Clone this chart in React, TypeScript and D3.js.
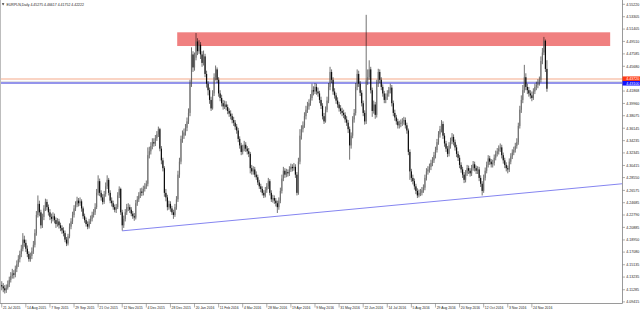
import React from 'react';
import * as d3 from 'd3';

const chartTitle = 'EURPLN,Daily  4.45275 4.46617 4.41752 4.42222';
const firstOpen = 4.12;

const closes = [
  4.118,4.115,4.112,4.116,4.121,4.128,4.134,4.138,4.136,4.145,
  4.152,4.160,4.168,4.176,4.190,4.185,4.176,4.168,4.160,4.165,
  4.172,4.182,4.200,4.228,4.245,4.232,4.212,4.225,4.238,4.248,
  4.240,4.232,4.225,4.222,4.226,4.220,4.214,4.218,4.212,4.208,
  4.204,4.200,4.190,4.184,4.195,4.210,4.218,4.228,4.238,4.244,
  4.250,4.246,4.249,4.238,4.226,4.220,4.214,4.210,4.218,4.222,
  4.228,4.232,4.240,4.262,4.280,4.262,4.255,4.248,4.260,4.272,
  4.282,4.262,4.250,4.246,4.240,4.236,4.240,4.258,4.268,4.232,
  4.212,4.222,4.232,4.240,4.240,4.236,4.230,4.226,4.224,4.246,
  4.252,4.258,4.264,4.262,4.268,4.272,4.276,4.320,4.326,4.334,
  4.340,4.338,4.346,4.352,4.360,4.330,4.312,4.300,4.262,4.255,
  4.240,4.245,4.238,4.232,4.228,4.240,4.252,4.290,4.310,4.345,
  4.350,4.355,4.362,4.372,4.385,4.430,4.475,4.455,4.470,4.495,
  4.480,4.490,4.475,4.462,4.472,4.445,4.430,4.420,4.405,4.392,
  4.415,4.440,4.452,4.436,4.415,4.408,4.400,4.395,4.398,4.394,
  4.388,4.384,4.380,4.374,4.370,4.364,4.358,4.345,4.335,4.325,
  4.330,4.336,4.330,4.326,4.322,4.300,4.295,4.298,4.290,4.286,
  4.278,4.272,4.268,4.262,4.258,4.266,4.272,4.280,4.262,4.252,
  4.254,4.250,4.246,4.240,4.250,4.265,4.284,4.296,4.290,4.294,
  4.292,4.298,4.302,4.300,4.302,4.290,4.262,4.310,4.350,4.360,
  4.366,4.380,4.390,4.395,4.400,4.408,4.420,4.418,4.425,4.418,
  4.415,4.405,4.396,4.380,4.372,4.390,4.404,4.425,4.448,4.436,
  4.418,4.412,4.404,4.398,4.392,4.388,4.385,4.382,4.375,4.370,
  4.360,4.335,4.350,4.375,4.385,4.425,4.445,4.430,4.416,4.400,
  4.385,4.372,4.435,4.440,4.452,4.420,4.388,4.398,4.382,4.430,
  4.448,4.436,4.425,4.415,4.405,4.410,4.415,4.420,4.424,4.400,
  4.385,4.378,4.372,4.366,4.368,4.370,4.372,4.374,4.366,4.358,
  4.325,4.295,4.285,4.280,4.272,4.265,4.258,4.262,4.262,4.266,
  4.270,4.285,4.295,4.298,4.302,4.308,4.312,4.320,4.328,4.340,
  4.352,4.360,4.368,4.350,4.338,4.330,4.322,4.335,4.342,4.348,
  4.340,4.332,4.322,4.316,4.305,4.298,4.290,4.282,4.292,4.300,
  4.296,4.292,4.300,4.306,4.300,4.296,4.298,4.285,4.276,4.265,
  4.285,4.296,4.305,4.315,4.310,4.306,4.308,4.316,4.322,4.326,
  4.330,4.332,4.320,4.312,4.305,4.300,4.298,4.310,4.318,4.324,
  4.328,4.334,4.340,4.365,4.390,4.405,4.420,4.440,4.425,4.420,
  4.415,4.412,4.408,4.418,4.425,4.428,4.432,4.436,4.465,4.478,
  4.496,4.45275,4.42222,
];

const highs = [
  4.126,4.123,4.120,4.121,4.127,4.133,4.140,4.145,4.143,4.150,
  4.158,4.166,4.173,4.182,4.200,4.196,4.190,4.181,4.172,4.170,
  4.178,4.188,4.206,4.234,4.258,4.250,4.236,4.230,4.243,4.253,
  4.252,4.244,4.237,4.230,4.232,4.230,4.224,4.223,4.222,4.216,
  4.212,4.209,4.204,4.194,4.199,4.215,4.223,4.233,4.243,4.249,
  4.256,4.254,4.255,4.252,4.241,4.230,4.224,4.218,4.222,4.227,
  4.233,4.237,4.246,4.268,4.289,4.284,4.266,4.260,4.265,4.278,
  4.289,4.285,4.266,4.255,4.250,4.244,4.245,4.263,4.272,4.270,
  4.236,4.227,4.237,4.245,4.246,4.244,4.240,4.234,4.231,4.251,
  4.257,4.263,4.269,4.270,4.273,4.277,4.281,4.332,4.333,4.340,
  4.346,4.346,4.351,4.357,4.364,4.362,4.334,4.316,4.303,4.268,
  4.259,4.250,4.249,4.242,4.236,4.245,4.257,4.296,4.316,4.350,
  4.358,4.361,4.368,4.378,4.392,4.436,4.486,4.480,4.478,4.508,
  4.500,4.497,4.494,4.480,4.481,4.476,4.450,4.434,4.424,4.410,
  4.420,4.446,4.458,4.455,4.440,4.420,4.413,4.405,4.404,4.403,
  4.398,4.392,4.389,4.384,4.379,4.374,4.368,4.362,4.349,4.339,
  4.336,4.342,4.340,4.334,4.331,4.325,4.305,4.303,4.302,4.295,
  4.290,4.282,4.276,4.272,4.266,4.271,4.277,4.285,4.283,4.266,
  4.259,4.258,4.254,4.250,4.255,4.270,4.290,4.302,4.300,4.299,
  4.298,4.303,4.307,4.306,4.308,4.306,4.294,4.316,4.360,4.366,
  4.372,4.386,4.396,4.402,4.406,4.414,4.430,4.426,4.431,4.430,
  4.424,4.419,4.410,4.400,4.385,4.395,4.410,4.431,4.456,4.452,
  4.440,4.423,4.416,4.409,4.402,4.397,4.393,4.390,4.386,4.380,
  4.374,4.364,4.355,4.380,4.391,4.431,4.452,4.450,4.434,4.420,
  4.404,4.389,4.536,4.452,4.466,4.456,4.424,4.404,4.402,4.436,
  4.453,4.452,4.440,4.429,4.419,4.415,4.420,4.425,4.430,4.428,
  4.404,4.390,4.382,4.376,4.373,4.375,4.377,4.379,4.378,4.370,
  4.361,4.329,4.299,4.290,4.284,4.276,4.269,4.267,4.268,4.271,
  4.275,4.290,4.300,4.303,4.307,4.313,4.317,4.325,4.333,4.345,
  4.357,4.365,4.374,4.372,4.354,4.342,4.334,4.340,4.347,4.354,
  4.352,4.344,4.336,4.326,4.320,4.309,4.302,4.294,4.297,4.305,
  4.304,4.300,4.305,4.311,4.310,4.304,4.303,4.302,4.289,4.280,
  4.290,4.301,4.310,4.320,4.319,4.314,4.313,4.321,4.327,4.331,
  4.335,4.338,4.336,4.324,4.316,4.309,4.304,4.315,4.323,4.329,
  4.333,4.339,4.346,4.370,4.396,4.412,4.428,4.459,4.446,4.430,
  4.425,4.420,4.418,4.423,4.430,4.433,4.437,4.441,4.472,4.485,
  4.502,4.498,4.46617,
];

const lows = [
  4.112,4.109,4.107,4.108,4.113,4.117,4.124,4.130,4.130,4.132,
  4.140,4.148,4.155,4.163,4.172,4.179,4.171,4.163,4.156,4.156,
  4.160,4.168,4.178,4.196,4.224,4.226,4.207,4.208,4.220,4.234,
  4.235,4.227,4.220,4.215,4.218,4.215,4.208,4.210,4.207,4.203,
  4.199,4.195,4.186,4.180,4.181,4.192,4.206,4.214,4.224,4.234,
  4.240,4.241,4.242,4.233,4.222,4.216,4.210,4.206,4.207,4.214,
  4.218,4.224,4.228,4.237,4.258,4.257,4.250,4.244,4.245,4.256,
  4.268,4.258,4.246,4.241,4.236,4.232,4.231,4.237,4.254,4.228,
  4.204,4.208,4.218,4.228,4.234,4.231,4.226,4.222,4.219,4.221,
  4.242,4.248,4.254,4.257,4.258,4.264,4.268,4.272,4.315,4.321,
  4.329,4.333,4.334,4.342,4.348,4.326,4.306,4.295,4.256,4.249,
  4.235,4.236,4.233,4.228,4.222,4.225,4.236,4.248,4.285,4.306,
  4.339,4.345,4.350,4.357,4.368,4.380,4.425,4.448,4.450,4.466,
  4.474,4.476,4.468,4.456,4.458,4.440,4.424,4.412,4.399,4.388,
  4.390,4.411,4.435,4.431,4.410,4.403,4.395,4.390,4.391,4.389,
  4.383,4.379,4.375,4.369,4.365,4.359,4.353,4.340,4.330,4.320,
  4.321,4.326,4.325,4.321,4.317,4.292,4.290,4.290,4.286,4.282,
  4.274,4.268,4.263,4.258,4.254,4.255,4.262,4.268,4.258,4.248,
  4.247,4.245,4.241,4.231,4.236,4.246,4.261,4.280,4.285,4.286,
  4.287,4.288,4.294,4.295,4.296,4.285,4.258,4.259,4.306,4.344,
  4.355,4.362,4.375,4.385,4.390,4.396,4.404,4.412,4.414,4.413,
  4.410,4.400,4.391,4.375,4.368,4.370,4.386,4.400,4.420,4.431,
  4.413,4.407,4.399,4.393,4.387,4.383,4.380,4.377,4.370,4.365,
  4.354,4.313,4.330,4.346,4.370,4.381,4.420,4.425,4.411,4.395,
  4.380,4.367,4.368,4.428,4.436,4.415,4.379,4.384,4.376,4.378,
  4.425,4.431,4.420,4.410,4.400,4.400,4.405,4.410,4.415,4.395,
  4.380,4.373,4.367,4.361,4.361,4.363,4.365,4.367,4.361,4.353,
  4.320,4.282,4.279,4.275,4.267,4.260,4.254,4.255,4.257,4.258,
  4.262,4.266,4.281,4.290,4.293,4.297,4.303,4.308,4.315,4.324,
  4.336,4.347,4.355,4.345,4.333,4.325,4.317,4.318,4.330,4.337,
  4.335,4.327,4.317,4.311,4.300,4.293,4.285,4.277,4.278,4.288,
  4.291,4.287,4.288,4.296,4.295,4.291,4.291,4.280,4.271,4.258,
  4.262,4.281,4.292,4.301,4.305,4.301,4.301,4.304,4.312,4.318,
  4.321,4.325,4.315,4.307,4.300,4.295,4.292,4.294,4.306,4.314,
  4.320,4.324,4.330,4.336,4.361,4.385,4.400,4.416,4.420,4.414,
  4.410,4.407,4.403,4.405,4.414,4.420,4.423,4.427,4.432,4.460,
  4.474,4.448,4.41752,
];

const dateLabels = [
  '21 Jul 2015','14 Aug 2015','7 Sep 2015','29 Sep 2015','21 Oct 2015','12 Nov 2015',
  '4 Dec 2015','28 Dec 2015','20 Jan 2016','11 Feb 2016','4 Mar 2016','28 Mar 2016',
  '19 Apr 2016','9 May 2016','31 May 2016','22 Jun 2016','14 Jul 2016','5 Aug 2016',
  '29 Aug 2016','20 Sep 2016','12 Oct 2016','3 Nov 2016','24 Nov 2016',
];
const barsPerDateLabel = 16;

const priceTicks = [
  '4.55220','4.53305','4.51405','4.49510','4.47585','4.45680','4.43775','4.41868',
  '4.39960','4.38075','4.36145','4.34235','4.32345','4.30415','4.28550','4.26575',
  '4.24685','4.22790','4.20885','4.18950','4.17080','4.15135','4.13235','4.11285','4.09415',
];

// drawn objects (data units: bar index, price)
const zoneBars = [116.5, 404];
const zonePrices = [4.4880, 4.5091];
const upperLevel = 4.4372;
const lowerLevel = 4.4310;
const upperLevelLabel = '4.43720';
const lowerLevelLabel = '4.43100';
const trendBars = [80, 397.4];
const trendPrices = [4.2035, 4.2728];

const FONT = '"Liberation Sans", Arial, sans-serif';

export default function App() {
  const W = 640, H = 312;
  const plotRight = 622.5;
  const axisY = 303.5;
  const x = d3.scaleLinear().domain([0, closes.length - 1]).range([1.75, 1.75 + (closes.length - 1) * 1.506]);
  const y = d3.scaleLinear().domain([4.09415, 4.5522]).range([301.9, 4.3]);

  const bars = closes.map((c, i) => {
    const o = i === 0 ? firstOpen : closes[i - 1];
    const h = Math.max(highs[i], o, c);
    const l = Math.min(lows[i], o, c);
    return { i, o, h, l, c };
  });

  const trendSlope = (trendPrices[1] - trendPrices[0]) / (trendBars[1] - trendBars[0]);
  const trendEndBar = x.invert(plotRight);
  const trendEndPrice = trendPrices[0] + trendSlope * (trendEndBar - trendBars[0]);

  return (
    <svg width={W} height={H} style={{ position: 'fixed', left: 0, top: 0, background: '#fff' }} fontFamily={FONT}>
      <defs>
        <clipPath id="plot">
          <rect x={0} y={0} width={plotRight} height={axisY} />
        </clipPath>
      </defs>
      <rect x={0} y={0} width={W} height={H} fill="#fff" />
      <g clipPath="url(#plot)">
        <rect
          x={x(zoneBars[0])}
          width={x(zoneBars[1]) - x(zoneBars[0])}
          y={y(zonePrices[1])}
          height={y(zonePrices[0]) - y(zonePrices[1])}
          fill="#f08080"
        />
        <line x1={0} x2={plotRight} y1={y(upperLevel)} y2={y(upperLevel)} stroke="#f9c6b0" strokeWidth={1.6} />
        <line x1={0} x2={plotRight} y1={y(lowerLevel) - 1.6} y2={y(lowerLevel) - 1.6} stroke="#d8d8d8" strokeWidth={0.8} />
        <line x1={0} x2={plotRight} y1={y(lowerLevel)} y2={y(lowerLevel)} stroke="#2a2ad8" strokeWidth={1.1} />
        <line
          x1={x(trendBars[0])} y1={y(trendPrices[0])}
          x2={x(trendEndBar)} y2={y(trendEndPrice)}
          stroke="#8585f0" strokeWidth={1}
        />
        {bars.map(b => {
          const cx = x(b.i);
          const top = y(Math.max(b.o, b.c));
          const bot = y(Math.min(b.o, b.c));
          const bear = b.c < b.o;
          return (
            <g key={b.i}>
              <line x1={cx} x2={cx} y1={y(b.h)} y2={y(b.l)} stroke="#000" strokeOpacity={0.7} strokeWidth={0.8} />
              <rect x={cx - 0.6} width={1.2} y={top} height={Math.max(0.5, bot - top)}
                fill={bear ? '#000' : '#6a6a6a'} fillOpacity={bear ? 0.9 : 0.75} />
            </g>
          );
        })}
      </g>
      {/* borders */}
      <line x1={0.5} x2={0.5} y1={0} y2={axisY} stroke="#bdbdbd" strokeWidth={1} />
      <line x1={plotRight} x2={plotRight} y1={0} y2={axisY} stroke="#9a9a9a" strokeWidth={1} />
      <line x1={0} x2={plotRight} y1={axisY} y2={axisY} stroke="#9a9a9a" strokeWidth={1} />
      {/* price axis */}
      {priceTicks.map(t => {
        const ty = y(+t);
        return (
          <g key={t}>
            <line x1={plotRight} x2={plotRight + 2.5} y1={ty} y2={ty} stroke="#777" strokeWidth={0.6} />
            <text x={plotRight + 3.8} y={ty + 1.3} fontSize={3.6} fill="#222">{t}</text>
          </g>
        );
      })}
      <rect x={plotRight} y={y(upperLevel) - 2.6} width={W - plotRight} height={4.6} fill="#ff3b14" />
      <text x={plotRight + 3.8} y={y(upperLevel) + 1.2} fontSize={3.6} fill="#fff">{upperLevelLabel}</text>
      <rect x={plotRight} y={y(lowerLevel) - 2.1} width={W - plotRight} height={4.6} fill="#1414ff" />
      <text x={plotRight + 3.8} y={y(lowerLevel) + 1.7} fontSize={3.6} fill="#fff">{lowerLevelLabel}</text>
      {/* date axis */}
      {dateLabels.map((d, k) => {
        const tx = x(k * barsPerDateLabel);
        return (
          <g key={d}>
            <line x1={tx} x2={tx} y1={axisY} y2={axisY + 4} stroke="#777" strokeWidth={0.6} />
            <text x={tx + 1.2} y={axisY + 5.2} fontSize={3.4} fill="#222">{d}</text>
          </g>
        );
      })}
      {/* title */}
      <path d="M1.8,3.3 L4.4,3.3 L3.1,5.4 Z" fill="#333" />
      <text x={6.5} y={6} fontSize={3.5} fill="#222">{chartTitle}</text>
    </svg>
  );
}
